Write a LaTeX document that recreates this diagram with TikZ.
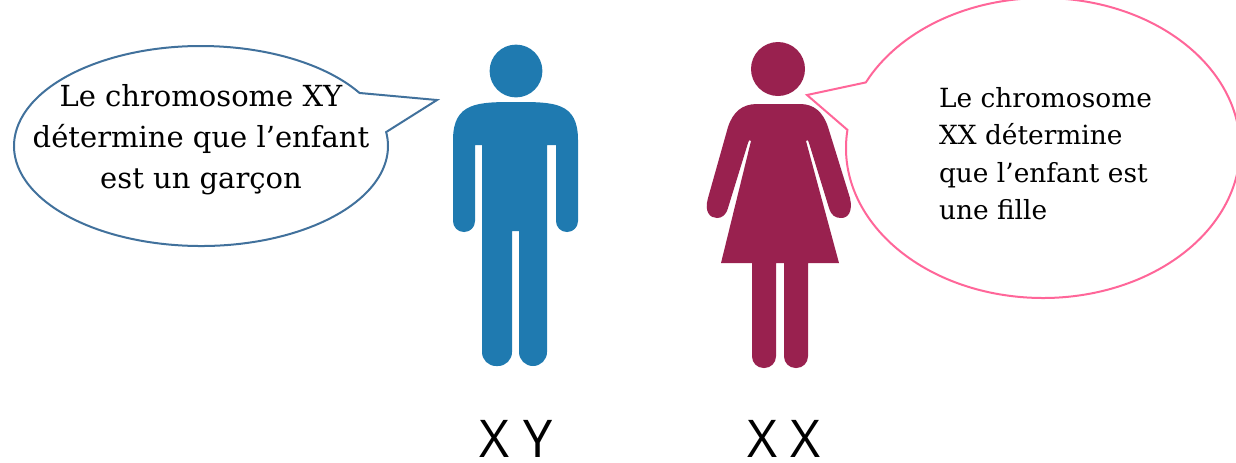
\documentclass[tikz,border=0pt]{standalone}
\usepackage{fontspec}
\setmainfont{DejaVu Serif}
\newfontfamily\labelfont{Open Sans}
\usetikzlibrary{shapes.callouts}
\definecolor{garcon}{HTML}{1F7AB0}
\definecolor{fille}{HTML}{99214F}
\definecolor{bordgarcon}{HTML}{41719C}
\definecolor{bordfille}{HTML}{FF6699}
\tikzset{etq/.style={font=\fontsize{14.5}{20.5}\selectfont, align=center},
  etqfille/.style={font=\fontsize{13.2}{18.75}\selectfont, align=left, anchor=north west},
  chromo/.style={font=\labelfont\fontsize{26}{30}\selectfont, inner sep=0pt},
  bulle/.style={ellipse callout, draw, fill=white, line width=1pt, inner sep=0pt}}

\begin{document}
\begin{tikzpicture}[x=0.5pt, y=-0.5pt]
  \useasboundingbox (0,0) rectangle (1236,462);
  \clip (0,0) rectangle (1236,462);
  % homme
  \fill[garcon] (516,71) circle[radius=13.2pt];
  \fill[garcon] (516,102) .. controls (478,102) and (453,102) .. (453,140)
    [rounded corners=5.4pt] -- (453,232) -- (475,232) [sharp corners] -- (475,145) -- (482,145)
    [rounded corners=7pt] -- (482,366) -- (512,366) [sharp corners] -- (512,231) -- (519,231)
    [rounded corners=7pt] -- (519,366) -- (547,366) [sharp corners] -- (547,145) -- (556,145)
    [rounded corners=5.4pt] -- (556,232) -- (578,232) [sharp corners] -- (578,140)
    .. controls (578,102) and (554,102) .. (516,102) -- cycle;
  % femme
  \fill[fille] (778,69) circle[radius=13.5pt];
  \fill[fille] (778,104) -- (757,104) .. controls (742,104) and (733,112) .. (728,127)
    -- (708,198) .. controls (704,212) and (710,218) .. (717,218)
    .. controls (722,218) and (726,215) .. (728,208)
    -- (748,143) .. controls (749,140) and (750,139) .. (751,141)
    -- (721,263) -- (752,263)
    [rounded corners=5.8pt] -- (752,368) -- (776,368) [sharp corners] -- (776,263) -- (784,263)
    [rounded corners=5.8pt] -- (784,368) -- (808,368) [sharp corners] -- (808,263) -- (839,263)
    -- (806,141) .. controls (807,139) and (808,140) .. (809,143)
    -- (829,208) .. controls (831,215) and (835,218) .. (841,218)
    .. controls (848,218) and (853,212) .. (850,198)
    -- (828,127) .. controls (823,112) and (814,104) .. (800,104) -- cycle;
  % bulles
  \node[bulle, draw=bordgarcon, minimum width=187pt, minimum height=100pt,
    callout pointer arc=24, callout absolute pointer={(437,100)}] (bullegarcon) at (201,146) {};
  \node[bulle, draw=bordfille, minimum width=197pt, minimum height=150pt,
    callout pointer arc=19, callout absolute pointer={(807,95)}] (bullefille) at (1043,148) {};
  \node[etq] (textegarcon) at (201,140) {Le chromosome XY\\détermine que l’enfant\\est un garçon};
  \node[etqfille] (textefille) at (932,80) {Le chromosome\\XX détermine\\que l’enfant est\\une fille};
  % chromosomes
  \node[chromo] (xy) at (516,439) {X Y};
  \node[chromo] (xx) at (784,439) {X X};
\end{tikzpicture}
\end{document}
